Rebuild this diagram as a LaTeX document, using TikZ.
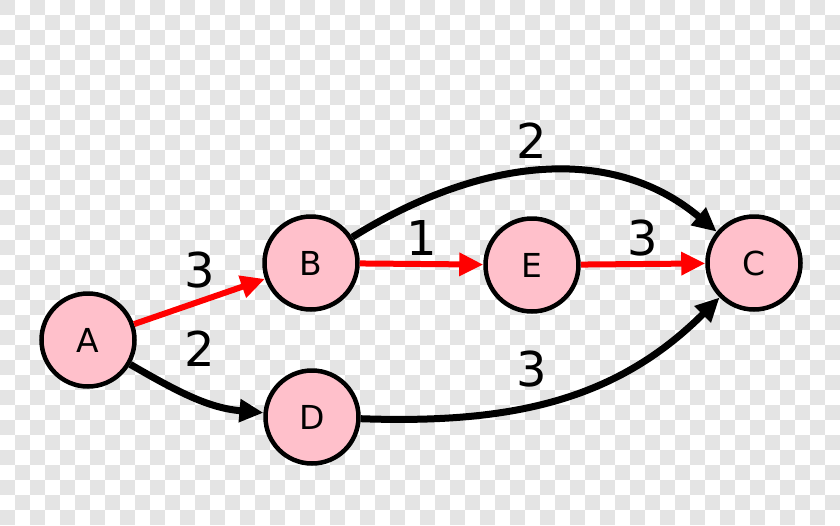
\documentclass[tikz,border=0pt]{standalone}
\usepackage{fontspec}
\setmainfont{DejaVu Sans}
\usetikzlibrary{arrows.meta}
\definecolor{nodepink}{HTML}{FFC0CB}
\definecolor{edgered}{HTML}{FF0000}
\definecolor{chk}{HTML}{E4E4E4}
\tikzset{
  vert/.style={circle, draw=black, line width=4.5pt, fill=nodepink, minimum size=93pt, inner sep=0pt, font=\fontsize{33}{33}\selectfont},
  redge/.style={draw=edgered, line width=6pt, -{Triangle[length=24pt,width=22pt]}},
  bedge/.style={draw=black, line width=7pt, -{Triangle[length=24pt,width=22pt]}},
  wlabel/.style={font=\fontsize{48}{48}\selectfont, inner sep=0pt}
}
\begin{document}
\begin{tikzpicture}[x=1pt,y=-1pt]
\useasboundingbox (0,0) rectangle (840,525);
\fill[white] (0,0) rectangle (840,525);
\foreach \i in {0,...,55}{
  \foreach \j in {0,...,34}{
    \pgfmathtruncatemacro{\p}{mod(\i+\j,2)}
    \ifnum\p=0 \fill[chk] (\i*15,\j*15) rectangle ++(15,15);\fi
  }
}
\node[vert] (A) at (88,340) {A};
\node[vert] (B) at (311,263) {B};
\node[vert] (E) at (532,265) {E};
\node[vert] (C) at (754,263) {C};
\node[vert] (D) at (312,417) {D};

\draw[redge] (A) -- (B);
\draw[redge] (B) -- (E);
\draw[redge] (E) -- (C);
\draw[bedge] (A) to[out=-30,in=175] (D);
\draw[bedge] (B) to[out=32,in=140] (C);
\draw[bedge] (D) to[out=-2,in=225] (C);

\node[wlabel] (l1) at (200,270) {3};
\node[wlabel] (l2) at (200,349) {2};
\node[wlabel] (l3) at (422,238) {1};
\node[wlabel] (l4) at (643,238) {3};
\node[wlabel] (l5) at (532,141) {2};
\node[wlabel] (l6) at (532,369) {3};
\end{tikzpicture}
\end{document}
